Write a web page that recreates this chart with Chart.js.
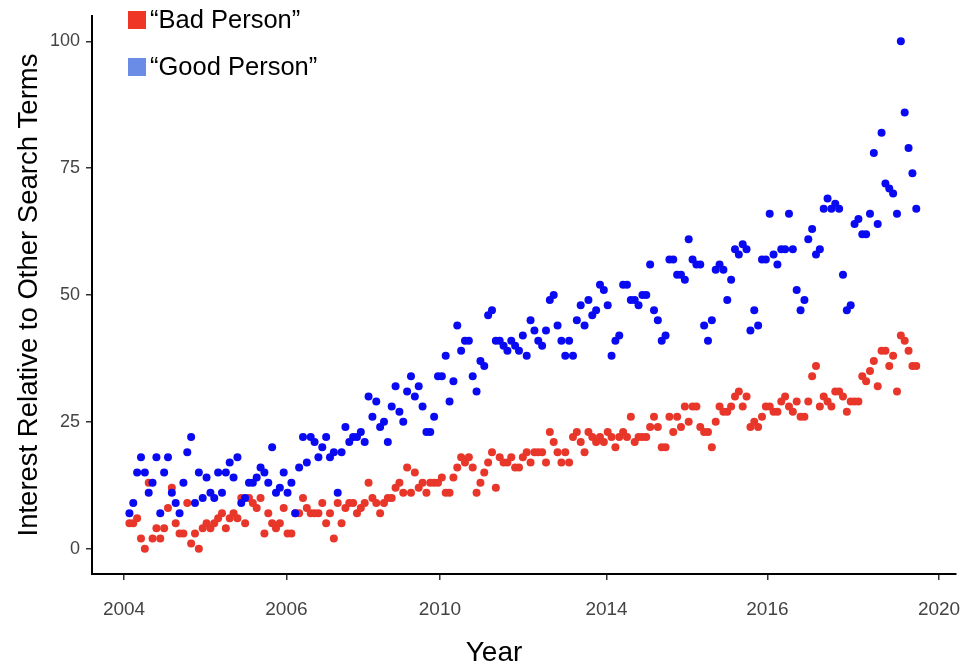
<!DOCTYPE html>
<html>
<head>
<meta charset="utf-8">
<title>Good Person vs Bad Person</title>
<script src="https://cdn.jsdelivr.net/npm/chart.js@4"></script>
<style>
  html, body { margin: 0; padding: 0; background: #fff; }
  #wrap { width: 973px; height: 671px; position: relative; }
</style>
</head>
<body>
<div id="wrap"><canvas id="chart" width="973" height="671"></canvas></div>
<script>
// Monthly search interest, starting January 2004 (index = month number)
const badPerson = [
  5, 5, 6, 2, 0, 13, 2, 4, 2, 4,
  8, 12, 5, 3, 3, 9, 1, 3, 0, 4,
  5, 4, 5, 6, 7, 4, 6, 7, 6, 10,
  5, 10, 9, 8, 10, 3, 7, 5, 4, 5,
  8, 3, 3, 7, 7, 10, 8, 7, 7, 7,
  9, 5, 7, 2, 9, 5, 8, 9, 9, 7,
  8, 9, 13, 10, 9, 7, 9, 10, 10, 12,
  13, 11, 16, 11, 15, 12, 13, 11, 13, 13,
  13, 14, 11, 11, 14, 16, 18, 17, 18, 16,
  11, 13, 15, 17, 19, 12, 18, 17, 17, 18,
  16, 16, 18, 19, 17, 19, 19, 19, 17, 23,
  21, 19, 17, 19, 17, 22, 23, 21, 19, 23,
  22, 21, 22, 21, 23, 22, 20, 22, 23, 22,
  26, 21, 22, 22, 22, 24, 26, 24, 20, 20,
  26, 23, 26, 24, 28, 25, 28, 28, 24, 23,
  23, 20, 25, 28, 27, 27, 28, 30, 31, 28,
  30, 24, 25, 24, 26, 28, 28, 27, 27, 29,
  30, 28, 27, 29, 26, 26, 29, 34, 36, 28,
  30, 29, 28, 31, 31, 30, 27, 29, 29, 29,
  34, 33, 35, 37, 32, 39, 39, 36, 38, 31,
  42, 41, 39, 36, 36
];

const goodPerson = [
  7, 9, 15, 18, 15, 11, 13, 18, 7, 15,
  18, 11, 9, 7, 13, 19, 22, 9, 15, 10,
  14, 11, 10, 15, 11, 15, 17, 14, 18, 9,
  10, 13, 13, 14, 16, 15, 13, 20, 11, 12,
  15, 11, 13, 7, 16, 22, 17, 22, 21, 18,
  20, 22, 18, 19, 11, 19, 24, 21, 22, 22,
  23, 21, 30, 26, 29, 24, 25, 21, 28, 32,
  27, 25, 31, 34, 30, 32, 28, 23, 23, 26,
  34, 34, 38, 29, 33, 44, 39, 41, 41, 34,
  31, 37, 36, 46, 47, 41, 41, 40, 39, 41,
  40, 39, 42, 38, 45, 43, 41, 40, 43, 49,
  50, 44, 41, 38, 41, 38, 45, 48, 44, 49,
  46, 47, 52, 51, 48, 38, 41, 42, 52, 52,
  49, 49, 48, 50, 50, 56, 47, 45, 41, 42,
  57, 57, 54, 54, 53, 61, 57, 56, 56, 44,
  41, 45, 55, 56, 55, 49, 53, 59, 58, 60,
  59, 43, 47, 44, 57, 57, 66, 58, 56, 59,
  59, 66, 59, 51, 47, 49, 61, 63, 58, 59,
  67, 69, 67, 68, 67, 54, 47, 48, 64, 65,
  62, 62, 66, 78, 64, 82, 72, 71, 70, 66,
  100, 86, 79, 74, 67
];

// Year axis: break positions (in months) and their labels
const xTickPositions = [-1.4, 40.7, 80.5, 123.7, 165.4, 209.9];
const xTickLabels = ['2004', '2006', '2010', '2014', '2016', '2020'];
const yTickValues = [0, 25, 50, 75, 100];

const seriesNames = ['\u201cBad Person\u201d', '\u201cGood Person\u201d'];
const pointColors = ['#e8362a', '#0a0af2'];
const keyColors = ['#ee3526', '#6a8ce6'];
const xAxisTitle = 'Year';
const yAxisTitle = 'Interest Relative to Other Search Terms';

const toPoints = arr => arr.map((v, i) => ({ x: i, y: v }));

const FONT = '"Liberation Sans", Arial, Helvetica, sans-serif';

// Legend drawn in the upper-left corner of the panel
const cornerLegend = {
  id: 'cornerLegend',
  afterDraw(chart) {
    const ctx = chart.ctx;
    const rows = [20, 67];
    ctx.save();
    ctx.font = '25.5px ' + FONT;
    ctx.textBaseline = 'middle';
    ctx.textAlign = 'left';
    chart.data.datasets.slice().sort((a, b) => a.legendIndex - b.legendIndex).forEach((ds, k) => {
      const cy = rows[k];
      ctx.fillStyle = ds.keyColor;
      ctx.fillRect(128, cy - 9, 18, 18);
      ctx.fillStyle = '#000';
      ctx.fillText(ds.label, 150, cy + 1);
    });
    ctx.restore();
  }
};

// "Year" caption under the x axis
const xCaption = {
  id: 'xCaption',
  afterDraw(chart) {
    const ctx = chart.ctx;
    ctx.save();
    ctx.font = '28px ' + FONT;
    ctx.fillStyle = '#000';
    ctx.textAlign = 'center';
    ctx.textBaseline = 'alphabetic';
    ctx.fillText(xAxisTitle, 494, 661);
    ctx.restore();
  }
};

const chart = new Chart(document.getElementById('chart'), {
  type: 'scatter',
  data: {
    datasets: [
      {
        label: seriesNames[1],
        data: toPoints(goodPerson),
        backgroundColor: pointColors[1],
        keyColor: keyColors[1],
        legendIndex: 1,
        order: 0,
        pointRadius: 4,
        pointHoverRadius: 4,
        borderWidth: 0
      },
      {
        label: seriesNames[0],
        data: toPoints(badPerson),
        backgroundColor: pointColors[0],
        keyColor: keyColors[0],
        legendIndex: 0,
        order: 1,
        pointRadius: 4,
        pointHoverRadius: 4,
        borderWidth: 0
      }
    ]
  },
  options: {
    responsive: false,
    animation: false,
    events: [],
    layout: { padding: { top: 16, right: 17, left: 0, bottom: 0 } },
    plugins: { legend: { display: false }, tooltip: { enabled: false } },
    scales: {
      x: {
        type: 'linear',
        min: -9.7,
        max: 214.3,
        afterFit(scale) {
          scale.height = 97;
          scale.paddingLeft = 0;
          scale.paddingRight = 0;
        },
        afterBuildTicks(scale) { scale.ticks = xTickPositions.map(v => ({ value: v })); },
        ticks: {
          autoSkip: false,
          maxRotation: 0,
          padding: 18,
          color: '#444',
          font: { family: FONT, size: 19 },
          callback: (v, i) => xTickLabels[i]
        },
        grid: { display: true, drawOnChartArea: false, drawTicks: true, tickLength: 6, color: '#333', lineWidth: 1.5 },
        border: { display: true, color: '#000', width: 2 },
        title: { display: false }
      },
      y: {
        type: 'linear',
        min: -5,
        max: 105,
        afterFit(scale) {
          scale.width = 92;
          scale.paddingTop = 0;
          scale.paddingBottom = 0;
        },
        afterBuildTicks(scale) { scale.ticks = yTickValues.map(v => ({ value: v })); },
        ticks: {
          padding: 6,
          color: '#444',
          font: { family: FONT, size: 18 },
          callback: v => String(v)
        },
        grid: { display: true, drawOnChartArea: false, drawTicks: true, tickLength: 6, color: '#333', lineWidth: 1.5 },
        border: { display: true, color: '#000', width: 2 },
        title: {
          display: true,
          text: yAxisTitle,
          color: '#000',
          font: { family: FONT, size: 27.5, lineHeight: 1 },
          padding: { top: 16, bottom: 0 }
        }
      }
    }
  },
  plugins: [cornerLegend, xCaption]
});
</script>
</body>
</html>
